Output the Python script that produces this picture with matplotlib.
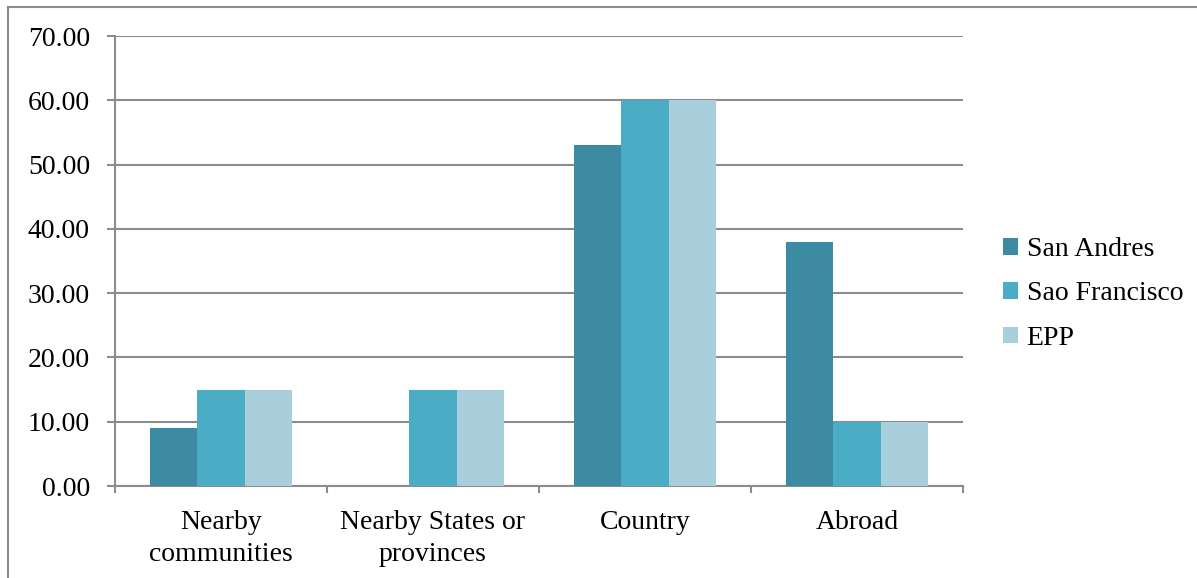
import matplotlib
matplotlib.use("Agg")
import matplotlib.pyplot as plt
import numpy as np
from matplotlib.patches import Rectangle

categories = ["Nearby\ncommunities", "Nearby States or\nprovinces", "Country", "Abroad"]
series_names = ["San Andres", "Sao Francisco", "EPP"]
san_andres = [9, 0, 53, 38]
sao_francisco = [15, 15, 60, 10]
epp = [15, 15, 60, 10]
colors = ["#3D8BA2", "#4BACC6", "#A9CFDD"]
yticks = [0, 10, 20, 30, 40, 50, 60, 70]

plt.rcParams['font.family'] = ['Liberation Serif', 'DejaVu Serif']
FS = 20

W, H = 1197, 578
fig = plt.figure(figsize=(W/100, H/100), dpi=100)
ax = fig.add_axes([115/W, 1-486/H, (963-115)/W, (486-36)/H])

fig.patches.append(Rectangle((8/W, -0.1), 1.2, (1-7/H)+0.1, transform=fig.transFigure,
                             fill=False, edgecolor="#8a8a8a", linewidth=1.5))

x = np.arange(len(categories))
w = 0.222
for i, (vals, name) in enumerate(zip([san_andres, sao_francisco, epp], series_names)):
    ax.bar(x + (i-1)*w, vals, width=w, color=colors[i], label=name, zorder=3)

ax.set_xlim(-0.5, len(categories)-0.5)
ax.set_ylim(0, 70)
ax.set_yticks(yticks)
ax.set_yticklabels([f"{v:.2f}" for v in yticks], fontsize=FS)
ax.yaxis.grid(True, color="#8c8c8c", linewidth=1.5, zorder=0)
ax.set_xticks(x)
ax.set_xticklabels(categories, fontsize=FS, linespacing=1.4)
ax.tick_params(axis='x', length=0, pad=17)
ax.set_xticks(np.arange(len(categories)+1)-0.5, minor=True)
ax.tick_params(axis='x', which='minor', length=5, width=1.5, color="#8c8c8c")
ax.tick_params(axis='y', length=6, width=1.5, color="#8c8c8c", pad=12)
for s in ["top", "right"]:
    ax.spines[s].set_visible(False)
for s in ["left", "bottom"]:
    ax.spines[s].set_color("#8c8c8c")
    ax.spines[s].set_linewidth(1.5)

fig.legend(loc="center left", bbox_to_anchor=(1003/W, 1-294/H), frameon=False,
           fontsize=FS, handlelength=0.55, handleheight=0.55, handletextpad=0.3,
           labelspacing=0.7, borderpad=0, borderaxespad=0)

fig.savefig("out.png", dpi=100)
